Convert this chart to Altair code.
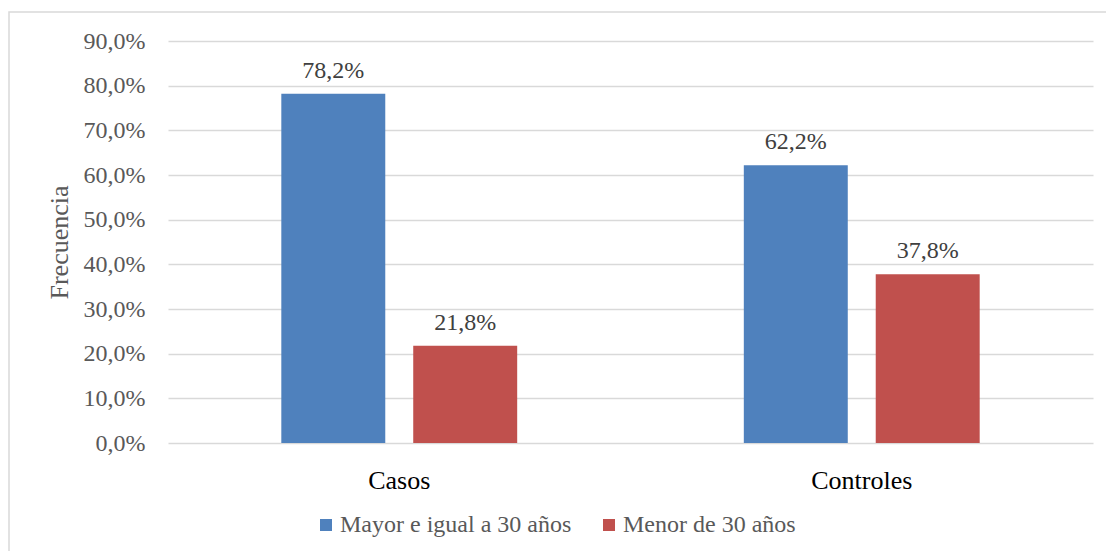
import altair as alt
import pandas as pd

categorias = ["Casos", "Casos", "Controles", "Controles"]
grupos = ["Mayor e igual a 30 años", "Menor de 30 años", "Mayor e igual a 30 años", "Menor de 30 años"]
valores = [0.782, 0.218, 0.622, 0.378]
orden_grupos = ["Mayor e igual a 30 años", "Menor de 30 años"]
colores = ["#4F81BD", "#C0504D"]
ticks_y = [0.0, 0.1, 0.2, 0.3, 0.4, 0.5, 0.6, 0.7, 0.8, 0.9]

df = pd.DataFrame({"categoria": categorias, "grupo": grupos, "valor": valores})

FONT = "Liberation Serif"

x_axis = alt.Axis(labelAngle=0, labelFontSize=26, labelColor="#000000",
                  labelFont=FONT, domain=False, ticks=False, tickSize=0,
                  labelBaseline="alphabetic", labelPadding=45, grid=False)
x_enc = alt.X("categoria:N", title=None,
              scale=alt.Scale(paddingInner=0.49, paddingOuter=0.245),
              axis=x_axis)
xoff = alt.XOffset("grupo:N", sort=orden_grupos, scale=alt.Scale(paddingInner=0.212, paddingOuter=0))
y_axis = alt.Axis(values=ticks_y,
                  labelExpr="replace(format(datum.value, '.1%'), '.', ',')",
                  labelFontSize=24, labelColor="#595959", labelFont=FONT,
                  labelPadding=23, domain=False, ticks=False, tickSize=0,
                  grid=True, gridColor="#D9D9D9", gridWidth=1.5,
                  titleFontSize=26, titleFont=FONT, titleColor="#595959",
                  titleFontWeight="normal", titleAngle=270,
                  titleX=-109, titleY=201, titleBaseline="middle",
                  titleAlign="center")
y_enc = alt.Y("valor:Q", title="Frecuencia",
              scale=alt.Scale(domain=[0, 0.9], nice=False),
              axis=y_axis)

color_enc = alt.Color("grupo:N", sort=orden_grupos,
                      scale=alt.Scale(domain=orden_grupos, range=colores),
                      legend=alt.Legend(title=None, orient="none", legendX=146, legendY=472,
                                        direction="horizontal", symbolType="square",
                                        symbolSize=144, symbolStrokeWidth=0, symbolOpacity=1,
                                        labelFontSize=24, labelFont=FONT, labelColor="#595959",
                                        labelOffset=2, columnPadding=25, labelLimit=0,
                                        padding=0))

bars = alt.Chart(df).mark_bar().encode(
    x=x_enc, xOffset=xoff, y=y_enc, color=color_enc
)

labels = alt.Chart(df).transform_calculate(
    etiqueta="replace(format(datum.valor, '.1%'), '.', ',')"
).mark_text(fontSize=24, font=FONT, color="#404040", baseline="alphabetic", dy=-16).encode(
    x=alt.X("categoria:N", title=None, axis=x_axis),
    xOffset=alt.XOffset("grupo:N", sort=orden_grupos),
    y=alt.Y("valor:Q", title="Frecuencia", axis=y_axis), text="etiqueta:N"
)

borde = alt.Chart(pd.DataFrame({"b": [1]})).mark_rect(
    fillOpacity=0, stroke="#D9D9D9", strokeWidth=1.5
).encode(
    x=alt.value(-159), x2=alt.value(1200), y=alt.value(-29), y2=alt.value(700)
)

chart = alt.layer(borde, bars, labels).properties(
    width=925, height=402,
    autosize=alt.AutoSizeParams(type="none"),
    padding={"left": 160, "top": 33, "right": 13, "bottom": 108},
).configure(background="white", font=FONT).configure_view(stroke=None).configure_axis(
    labelFont=FONT, titleFont=FONT
).configure_legend(labelFont=FONT)

chart.save("out.html", embed_options={"renderer": "svg", "actions": False})
